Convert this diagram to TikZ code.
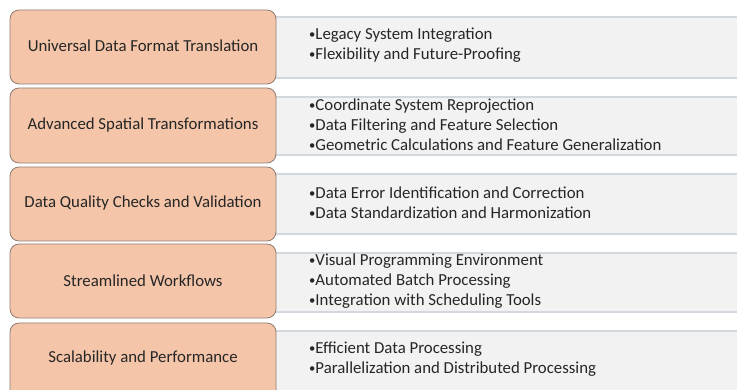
\documentclass[tikz,border=0pt]{standalone}
\usepackage{fontspec}
\setmainfont{Carlito}
\definecolor{orfill}{HTML}{F4C5A9}
\definecolor{ordraw}{HTML}{8F7D72}
\definecolor{grfill}{HTML}{F2F2F2}
\definecolor{grline}{HTML}{D3D8DF}
\definecolor{txt}{HTML}{262626}
\tikzset{
  x=1pt,y=-1pt,
  catbox/.style={draw=ordraw,line width=0.8pt,fill=orfill,rounded corners=9pt},
  detbox/.style={fill=grfill},
  detline/.style={draw=grline,line width=1.2pt},
  cattext/.style={text=txt,font=\fontsize{16.8}{20}\selectfont,anchor=center,inner sep=0pt},
  dettext/.style={text=txt,font=\fontsize{16.8}{20}\selectfont,anchor=west,inner sep=0pt,align=left},
}
\newcommand{\bl}{\raisebox{0.05em}{\scalebox{0.75}{•}}}
\begin{document}
\begin{tikzpicture}
\useasboundingbox (0,0) rectangle (737,390);
\clip (0,0) rectangle (737,390);
% gray detail bands
\foreach \t/\b [count=\i] in {17/78,97/155,174/234,253/312,331/400}{
  \fill[detbox] (200,\t) rectangle (740,\b);
  \draw[detline] (200,\t) -- (740,\t);
  \draw[detline] (200,\b) -- (740,\b);
}
% category boxes
\draw[catbox] (10,10) rectangle (276,84);
\draw[catbox] (10,88) rectangle (276,163);
\draw[catbox] (10,167) rectangle (276,241);
\draw[catbox] (10,244) rectangle (276,318);
\draw[catbox] (10,323) rectangle (276,410);
\node[cattext] (c1) at (143,46) {Universal Data Format Translation};
\node[cattext] (c2) at (143,125) {Advanced Spatial Transformations};
\node[cattext] (c3) at (143,203) {Data Quality Checks and Validation};
\node[cattext] (c4) at (143,281) {Streamlined Workflows};
\node[cattext] (c5) at (143,358) {Scalability and Performance};
\node[dettext] (d1) at (309,45) {\bl Legacy System Integration\\\bl Flexibility and Future-Proofing};
\node[dettext] (d2) at (309,125) {\bl Coordinate System Reprojection\\\bl Data Filtering and Feature Selection\\\bl Geometric Calculations and Feature Generalization};
\node[dettext] (d3) at (309,203) {\bl Data Error Identification and Correction\\\bl Data Standardization and Harmonization};
\node[dettext] (d4) at (309,281) {\bl Visual Programming Environment\\\bl Automated Batch Processing\\\bl Integration with Scheduling Tools};
\node[dettext] (d5) at (309,359) {\bl Efficient Data Processing\\\bl Parallelization and Distributed Processing};
\end{tikzpicture}
\end{document}
